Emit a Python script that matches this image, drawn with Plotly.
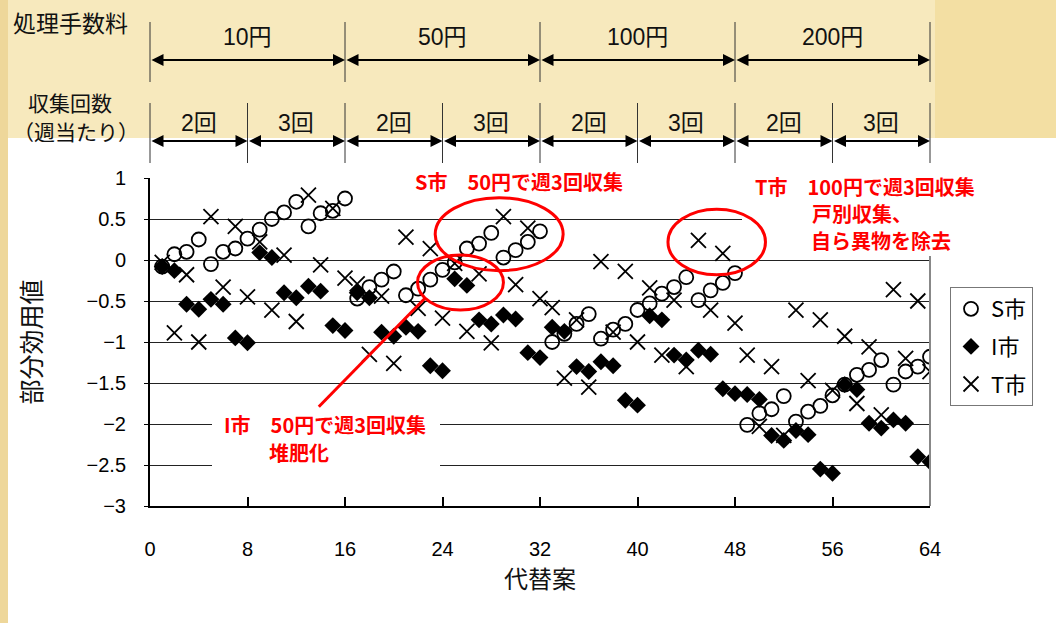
import plotly.graph_objects as go

# ---------------------------------------------------------------- data
alternatives = list(range(1, 65))

s_city = [-0.08, 0.07, 0.10, 0.25, -0.05, 0.10, 0.14, 0.26,
          0.37, 0.50, 0.58, 0.71, 0.41, 0.57, 0.60, 0.75,
          -0.47, -0.33, -0.24, -0.14, -0.43, -0.35, -0.24, -0.12,
          -0.03, 0.14, 0.20, 0.33, 0.03, 0.12, 0.22, 0.35,
          -1.00, -0.90, -0.78, -0.66, -0.96, -0.85, -0.78, -0.61,
          -0.53, -0.41, -0.33, -0.21, -0.49, -0.37, -0.28, -0.16,
          -2.01, -1.87, -1.82, -1.66, -1.97, -1.85, -1.78, -1.65,
          -1.52, -1.40, -1.34, -1.22, -1.52, -1.36, -1.30, -1.18]

i_city = [-0.08, -0.13, -0.54, -0.60, -0.48, -0.54, -0.95, -1.01,
          0.09, 0.03, -0.40, -0.46, -0.32, -0.38, -0.80, -0.86,
          -0.40, -0.46, -0.88, -0.93, -0.82, -0.87, -1.29, -1.35,
          -0.23, -0.31, -0.73, -0.78, -0.67, -0.72, -1.13, -1.19,
          -0.82, -0.87, -1.30, -1.36, -1.24, -1.29, -1.71, -1.77,
          -0.68, -0.73, -1.16, -1.22, -1.10, -1.15, -1.57, -1.63,
          -1.64, -1.70, -2.14, -2.20, -2.08, -2.13, -2.55, -2.60,
          -1.52, -1.58, -1.99, -2.05, -1.95, -1.99, -2.40, -2.46]

t_city = [-0.03, -0.89, -0.18, -1.00, 0.53, -0.33, 0.41, -0.45,
          0.22, -0.61, 0.06, -0.75, 0.79, -0.06, 0.63, -0.22,
          -0.29, -1.15, -0.44, -1.26, 0.28, -0.59, 0.14, -0.71,
          -0.04, -0.87, -0.17, -1.01, 0.53, -0.30, 0.39, -0.47,
          -0.58, -1.44, -0.73, -1.55, -0.02, -0.88, -0.14, -1.00,
          -0.34, -1.16, -0.49, -1.30, 0.24, -0.61, 0.08, -0.77,
          -1.16, -2.03, -1.30, -2.14, -0.61, -1.47, -0.73, -1.59,
          -0.93, -1.75, -1.06, -1.89, -0.36, -1.20, -0.50, -1.36]

series_names = ["S市", "I市", "T市"]

x_ticks = [0, 8, 16, 24, 32, 40, 48, 56, 64]
y_ticks = [-3, -2.5, -2, -1.5, -1, -0.5, 0, 0.5, 1]
y_tick_labels = ["−3", "−2.5", "−2", "−1.5", "−1", "−0.5", "0", "0.5", "1"]

fee_edges = [0, 16, 32, 48, 64]
fee_labels = ["10円", "50円", "100円", "200円"]
freq_edges = [0, 8, 16, 24, 32, 40, 48, 56, 64]
freq_labels = ["2回", "3回"] * 4

# ---------------------------------------------------------------- geometry
W, H = 1056, 623
ML, MR, MT, MB = 150, 126, 178, 117
PW, PH = W - ML - MR, H - MT - MB
X_RANGE = [0, 64]
Y_RANGE = [-3, 1]


def fx(px):
    """pixel column -> paper x"""
    return (px - ML) / PW


def fy(py):
    """pixel row -> paper y"""
    return (H - MB - py) / PH


def xpaper(v):
    """data x -> paper x"""
    return (v - X_RANGE[0]) / (X_RANGE[1] - X_RANGE[0])


NUM_FONT = "Liberation Sans, Arial, Noto Sans CJK JP, sans-serif"
JP_FONT = "Noto Sans CJK JP, Liberation Sans, sans-serif"
RED = "#FF0000"

fig = go.Figure()

fig.add_trace(go.Scatter(
    x=alternatives, y=s_city, mode="markers", name=series_names[0],
    legendgroup="s",
    marker=dict(symbol="circle-open", size=14, color="black",
                line=dict(width=1.8, color="black"))))
fig.add_trace(go.Scatter(
    x=alternatives, y=i_city, mode="markers", name=series_names[1],
    legendgroup="i",
    marker=dict(symbol="diamond", size=13, color="black",
                line=dict(width=0))))
fig.add_trace(go.Scatter(
    x=alternatives, y=t_city, mode="markers", name=series_names[2],
    legendgroup="t",
    marker=dict(symbol="x-thin-open", size=15, color="black",
                line=dict(width=1.8, color="black"))))

shapes = []
annotations = []

# background panels: beige slide, white chart card
shapes.append(dict(type="rect", xref="paper", yref="paper", layer="below",
                   x0=fx(8), x1=fx(W), y0=fy(H), y1=fy(138),
                   fillcolor="white", line=dict(width=0)))
shapes.append(dict(type="rect", xref="paper", yref="paper", layer="below",
                   x0=fx(0), x1=fx(8), y0=fy(H), y1=fy(0),
                   fillcolor="#EED79A", line=dict(width=0)))
shapes.append(dict(type="rect", xref="paper", yref="paper", layer="below",
                   x0=fx(935), x1=fx(W), y0=fy(138), y1=fy(0),
                   fillcolor="#F3DFA3", line=dict(width=0)))

# right frame line
shapes.append(dict(type="line", xref="paper", yref="paper", layer="above",
                   x0=1, x1=1, y0=0, y1=fy(256),
                   line=dict(color="#888888", width=2)))

# white boxes behind the callout texts (interrupting grid lines)
for (x0, x1, y0, y1) in [(400, 637, 170, 192), (742, 990, 170, 256),
                         (212, 440, 405, 475)]:
    shapes.append(dict(type="rect", xref="paper", yref="paper", layer="above",
                       x0=fx(x0), x1=fx(x1), y0=fy(y1), y1=fy(y0),
                       fillcolor="white", line=dict(width=0)))

# red ellipses (data space)
for (x0, x1, y0, y1) in [(23.4, 33.9, -0.13, 0.76),
                         (21.95, 29.0, -0.61, 0.06),
                         (42.5, 50.5, -0.18, 0.62)]:
    shapes.append(dict(type="circle", xref="x", yref="y", layer="above",
                       x0=x0, x1=x1, y0=y0, y1=y1,
                       line=dict(color=RED, width=3)))
shapes.append(dict(type="line", xref="x", yref="y", layer="above",
                   x0=13.85, y0=-1.79, x1=22.6, y1=-0.46,
                   line=dict(color=RED, width=3)))

# header: fee / frequency bands
for e in fee_edges:
    shapes.append(dict(type="line", xref="paper", yref="paper",
                       x0=xpaper(e), x1=xpaper(e), y0=fy(82), y1=fy(22),
                       line=dict(color="#333333", width=1)))
for e in freq_edges:
    shapes.append(dict(type="line", xref="paper", yref="paper",
                       x0=xpaper(e), x1=xpaper(e), y0=fy(163), y1=fy(103),
                       line=dict(color="#333333", width=1)))


def band_arrow(a, b, py):
    return dict(x=b, y=fy(py), xref="x", yref="paper",
                ax=a, ay=0, axref="x", ayref="pixel",
                text="", showarrow=True, arrowside="end+start",
                arrowhead=2, startarrowhead=2, arrowsize=1.2,
                startarrowsize=1.2, arrowwidth=2, arrowcolor="black",
                standoff=0, startstandoff=0)


def label(txt, x, xref, py, size, color, family, xanchor="center"):
    return dict(x=x, y=fy(py), xref=xref, yref="paper",
                xanchor=xanchor, yanchor="middle",
                text=txt, showarrow=False,
                font=dict(size=size, color=color, family=family))


for k, lab in enumerate(fee_labels):
    a, b = fee_edges[k], fee_edges[k + 1]
    annotations.append(band_arrow(a, b, 60))
    annotations.append(label(lab, (a + b) / 2, "x", 37, 23, "#111111", NUM_FONT))
for k, lab in enumerate(freq_labels):
    a, b = freq_edges[k], freq_edges[k + 1]
    annotations.append(band_arrow(a, b, 141))
    annotations.append(label(lab, (a + b) / 2, "x", 123, 23, "#111111", NUM_FONT))

annotations.append(label("処理手数料", fx(11), "paper", 22, 23, "#111111",
                         JP_FONT, "left"))
annotations.append(label("収集回数", fx(70), "paper", 102, 21, "#111111",
                         JP_FONT))
annotations.append(label("（週当たり）", fx(76), "paper", 131.5, 21, "#111111",
                         JP_FONT))

# red callout texts
callouts = [
    ("<b>S市　50円で週3回収集</b>", 519, 181, "center"),
    ("<b>T市　100円で週3回収集</b>", 865, 186, "center"),
    ("<b>戸別収集、</b>", 810, 213, "left"),
    ("<b>自ら異物を除去</b>", 809, 240, "left"),
    ("<b>I市　50円で週3回収集</b>", 325, 424, "center"),
    ("<b>堆肥化</b>", 267, 452, "left"),
]
for txt, px, py, anc in callouts:
    annotations.append(label(txt, fx(px), "paper", py, 20, RED, JP_FONT, anc))

fig.update_layout(
    width=W, height=H,
    margin=dict(l=ML, r=MR, t=MT, b=MB, autoexpand=False),
    paper_bgcolor="#F7E9BD",
    plot_bgcolor="white",
    showlegend=True,
    legend=dict(x=fx(950), xanchor="left", y=fy(287), yanchor="top",
                bgcolor="white", bordercolor="#777777", borderwidth=1,
                font=dict(size=22, color="black", family=JP_FONT),
                tracegroupgap=6, itemwidth=30),
    shapes=shapes,
    annotations=annotations,
    xaxis=dict(range=X_RANGE, tickvals=x_ticks, ticks="inside", ticklen=9,
               tickwidth=1.5, tickcolor="black", showline=True,
               linecolor="black", linewidth=2, showgrid=False, zeroline=False,
               tickfont=dict(size=20, color="black", family=NUM_FONT),
               ticklabelstandoff=24,
               title=dict(text="代替案", standoff=10,
                          font=dict(size=24, color="#111111", family=JP_FONT))),
    yaxis=dict(range=Y_RANGE, tickvals=y_ticks, ticktext=y_tick_labels,
               ticks="outside", ticklen=4, tickcolor="black",
               showline=True, linecolor="black", linewidth=2,
               showgrid=True, gridcolor="#222222", gridwidth=1,
               zeroline=False,
               tickfont=dict(size=20, color="black", family=NUM_FONT),
               ticklabelstandoff=14,
               title=dict(text="部分効用値", standoff=38,
                          font=dict(size=25, color="#111111", family=JP_FONT))),
)

fig.write_html("out.html")
